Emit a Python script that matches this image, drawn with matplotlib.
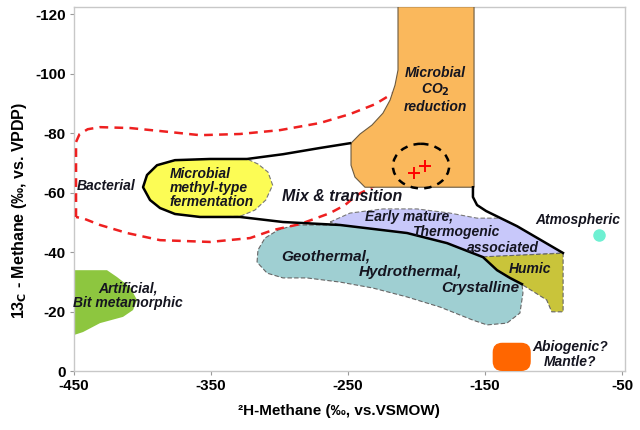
import numpy as np
import matplotlib.pyplot as plt
from matplotlib.patches import Polygon, Ellipse, FancyBboxPatch

plt.rcParams['font.family'] = ['Liberation Sans', 'DejaVu Sans']
plt.rcParams['axes.unicode_minus'] = False

# region outlines, dD (x) and d13C (y) in permil
co2_d2h = [-213.5, -213.5, -215.7, -219.3, -224.5, -232.5, -241.2, -247.8,
           -247.8, -244.9, -237.6, -158.0, -158.0]
co2_d13c = [-122.5, -101.2, -96.1, -91.1, -86.7, -82.7, -79.7, -76.6,
            -69.2, -65.2, -61.8, -61.8, -122.5]

methyl_d2h = [-323.7, -350.7, -376.3, -389.4, -396.7, -399.6, -394.5, -387.2,
              -376.3, -358.0, -328.8, -318.0, -310.0, -305.0, -308.4, -315.7]
methyl_d13c = [-71.3, -71.3, -70.9, -69.2, -65.9, -61.8, -57.5, -54.8,
               -52.8, -51.8, -52.0, -54.1, -57.5, -62.5, -66.9, -69.6]

mix_d2h = [-248.5, -270.4, -297.4, -323.7, -350.7, -376.3, -389.4, -396.7,
           -399.6, -394.5, -387.2, -376.3, -358.0, -328.8, -297.4, -255.8,
           -206.9, -177.7, -151.5, -141.2, -131.8, -123.0]
mix_d13c = [-76.6, -75.0, -72.9, -71.3, -71.3, -70.9, -69.2, -65.9,
            -61.8, -57.5, -54.8, -52.8, -51.8, -51.8, -50.1, -49.1,
            -46.4, -43.0, -38.3, -33.9, -31.3, -29.2]

thermo_edge_d2h = [-158.8, -158.8, -155.8, -149.2, -126.6, -93.1]
thermo_edge_d13c = [-61.8, -58.5, -55.8, -53.8, -48.7, -39.7]

early_d2h = [-263.1, -248.5, -224.5, -199.6, -175.5, -155.8, -139.1, -126.6,
             -93.1, -151.5, -177.7, -206.9, -255.8]
early_d13c = [-50.1, -53.1, -54.5, -54.5, -53.1, -51.4, -51.4, -48.7,
              -39.7, -38.3, -43.0, -46.4, -49.1]

humic_d2h = [-151.7, -93.0, -93.0, -101.3, -105.0, -114.7, -124.5, -131.8, -141.2]
humic_d13c = [-38.4, -39.6, -19.9, -19.9, -23.9, -26.7, -29.5, -31.3, -33.9]

geo_d2h = [-316.4, -315.7, -310.6, -301.1, -288.7, -255.8, -206.9, -177.7,
           -151.5, -141.2, -131.8, -123.0, -122.3, -124.5, -134.0, -148.5,
           -158.8, -182.8, -206.9, -231.8, -255.8, -280.0, -297.4, -309.0]
geo_d13c = [-36.6, -40.7, -44.7, -47.4, -49.1, -49.1, -46.4, -43.0,
            -38.3, -33.9, -31.3, -29.2, -26.2, -19.5, -16.1, -15.5,
            -17.1, -21.5, -24.9, -27.9, -29.9, -31.3, -31.3, -32.9]

bacterial_d2h = [-448.5, -448.5, -446.0, -440.0, -431.0, -409.0, -387.2, -358.0,
                 -328.8, -299.6, -270.4, -248.5, -230.3, -215.7, -197.4, -197.4,
                 -226.6, -243.4, -252.2, -263.1, -285.0, -304.7, -321.5, -350.7,
                 -387.2, -411.3, -431.0, -442.0]
bacterial_d13c = [-51.8, -77.0, -79.6, -81.3, -82.0, -81.7, -80.7, -79.3,
                  -79.7, -81.0, -83.4, -86.4, -89.7, -93.8, -84.4, -67.6,
                  -63.2, -59.2, -55.8, -53.1, -49.4, -47.4, -44.7, -43.4,
                  -44.0, -46.4, -49.1, -51.1]

artificial_d2h = [-450.0, -425.9, -418.6, -409.1, -404.0, -406.9, -414.2,
                  -431.0, -443.4, -450.0]
artificial_d13c = [-33.9, -33.9, -31.6, -28.2, -23.9, -20.5, -18.2,
                   -16.1, -13.1, -12.1]

# sample points and single spots
sample_d2h = [-201.8, -193.8]
sample_d13c = [-66.6, -68.9]
atmos_d2h, atmos_d13c = -67.0, -45.7
mantle_d2h = [-144.4, -116.6]
mantle_d13c = [-9.5, 0.0]

fig = plt.figure(figsize=(6.4, 4.3), dpi=100)
ax = fig.add_axes([0.1156, 0.1372, 0.861, 0.8465])


def region(xs, ys, fc, ec='none', ls='-', lw=0.8, z=1):
    p = Polygon(np.column_stack([xs, ys]), closed=True, facecolor=fc,
                edgecolor=ec, linestyle=ls, linewidth=lw, zorder=z)
    ax.add_patch(p)


region(artificial_d2h, artificial_d13c, '#8DC63F', z=1)
region(geo_d2h, geo_d13c, '#9FCFD2', ec='#666666', ls=(0, (4, 2)), z=1)
region(early_d2h, early_d13c, '#C8C8FA', ec='#777777', ls=(0, (4, 2)), z=1)
region(humic_d2h, humic_d13c, '#C9C43A', ec='#666666', ls=(0, (4, 2)), z=1)
region(methyl_d2h, methyl_d13c, '#FCFC55', ec='#777777', ls=(0, (4, 2)), z=2)

# bacterial envelope
ax.add_patch(Polygon(np.column_stack([bacterial_d2h, bacterial_d13c]), closed=True,
                     facecolor='none', edgecolor='#EE2020', linewidth=1.8,
                     linestyle=(0, (3.5, 2.5)), zorder=3))

region(co2_d2h, co2_d13c, '#FAB85C', ec='#6b5a40', lw=0.8, z=4)

# solid boundaries
ax.plot(mix_d2h, mix_d13c, color='black', lw=1.8, zorder=5)
ax.plot(thermo_edge_d2h, thermo_edge_d13c, color='black', lw=1.8, zorder=5)

ax.add_patch(Ellipse((-196.7, -68.9), 41, 15, facecolor='none', edgecolor='black',
                     linewidth=1.8, linestyle=(0, (3, 2.5)), zorder=6))
ax.plot(sample_d2h, sample_d13c, '+', color='red', ms=8, mew=1.4, zorder=7)

ax.plot(atmos_d2h, atmos_d13c, 'o', color='#6EF0D2', ms=8, zorder=6)

ax.add_patch(FancyBboxPatch((mantle_d2h[0], mantle_d13c[0]),
                            mantle_d2h[1] - mantle_d2h[0],
                            mantle_d13c[1] - mantle_d13c[0],
                            boxstyle='round,pad=0,rounding_size=7',
                            mutation_aspect=1.37 / 2.975,
                            facecolor='#FF6600', edgecolor='none', zorder=6))

lab = dict(fontweight='bold', fontstyle='italic', color='#151520', zorder=8)
ax.text(-426.2, -62.2, 'Bacterial', ha='center', va='center', fontsize=10, **lab)
ax.text(-380.0, -61.4, 'Microbial\nmethyl-type\nfermentation', ha='left',
        va='center', fontsize=10, linespacing=1.0, **lab)
ax.text(-254.6, -58.6, 'Mix & transition', ha='center', va='center',
        fontsize=11.5, **lab)
ax.text(-186.5, -94.5, 'Microbial\nCO$_\\mathbf{2}$\nreduction', ha='center',
        va='center', fontsize=10, linespacing=1.15, **lab)
ax.text(-205.1, -51.9, 'Early mature,', ha='center', va='center', fontsize=10, **lab)
ax.text(-171.2, -46.8, 'Thermogenic', ha='center', va='center', fontsize=10, **lab)
ax.text(-136.9, -41.3, 'associated', ha='center', va='center', fontsize=10, **lab)
ax.text(-266.2, -38.4, 'Geothermal,', ha='center', va='center', fontsize=11, **lab)
ax.text(-204.7, -33.4, 'Hydrothermal,', ha='center', va='center', fontsize=11, **lab)
ax.text(-153.1, -27.8, 'Crystalline', ha='center', va='center', fontsize=11, **lab)
ax.text(-116.9, -34.2, 'Humic', ha='center', va='center', fontsize=10, **lab)
ax.text(-82.5, -50.8, 'Atmospheric', ha='center', va='center', fontsize=10, **lab)
ax.text(-88.0, -5.7, 'Abiogenic?\nMantle?', ha='center', va='center',
        fontsize=10, linespacing=1.1, **lab)
ax.text(-410.4, -25.4, 'Artificial,\nBit metamorphic', ha='center', va='center',
        fontsize=10, linespacing=1.05, **lab)

ax.set_xlim(-450, -47.8)
ax.set_ylim(0, -122.4)
ax.set_xticks([-450, -350, -250, -150, -50])
ax.set_yticks([-120, -100, -80, -60, -40, -20, 0])
for s in ax.spines.values():
    s.set_color('#c8c8c8')
    s.set_linewidth(1.0)
ax.tick_params(direction='out', length=3, width=0.8, color='#999999',
               labelsize=11, pad=3)
for t in ax.get_xticklabels() + ax.get_yticklabels():
    t.set_fontweight('bold')

ax.set_xlabel('²H-Methane (‰, vs.VSMOW)', fontsize=11, fontweight='bold',
              labelpad=8, x=0.48)
ax.set_ylabel('13$_\\mathbf{C}$ - Methane (‰, vs. VPDP)', fontsize=11.5,
              fontweight='bold', labelpad=4, y=0.44)

fig.savefig('out.png', dpi=100)
